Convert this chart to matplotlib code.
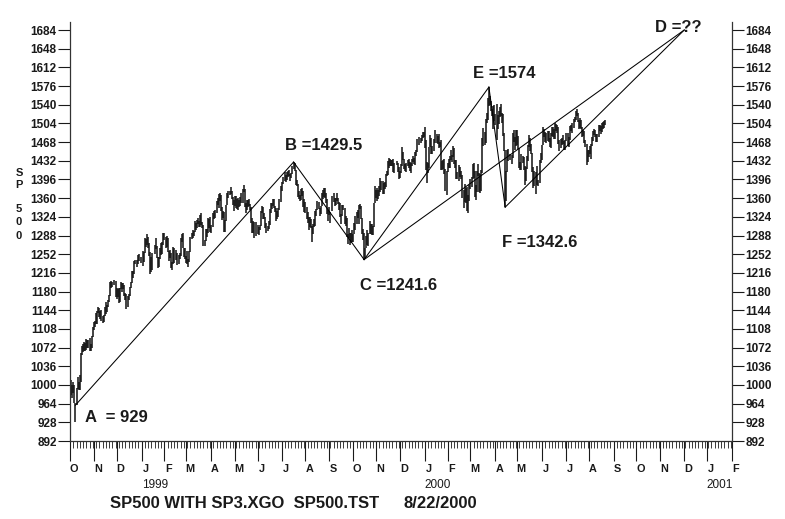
import numpy as np
import matplotlib
matplotlib.use('Agg')
import matplotlib.pyplot as plt

plt.rcParams['font.family'] = ['Liberation Sans', 'DejaVu Sans']

# ---------------- daily bar data (low / high), one list per month ----------------
lo_9810 = [985, 980, 975, 985, 965, 929, 962, 992, 990, 990, 1005, 1058, 1063, 1065, 1066, 1068, 1072, 1072, 1066, 1065, 1072, 1092]
hi_9810 = [1020, 1010, 1000, 1005, 1000, 965, 995, 1016, 1005, 1020, 1062, 1076, 1078, 1082, 1080, 1088, 1086, 1087, 1090, 1079, 1095, 1112]
lo_9811 = [1106, 1112, 1118, 1118, 1138, 1130, 1128, 1124, 1120, 1122, 1133, 1136, 1141, 1150, 1160, 1171, 1186, 1188, 1193, 1170]
hi_9811 = [1122, 1124, 1138, 1143, 1150, 1149, 1143, 1144, 1133, 1134, 1150, 1160, 1154, 1163, 1173, 1198, 1200, 1198, 1202, 1201]
lo_9812 = [1165, 1170, 1158, 1160, 1185, 1180, 1184, 1172, 1164, 1146, 1150, 1163, 1171, 1186, 1197, 1206, 1214, 1233, 1228, 1234, 1239, 1235]
hi_9812 = [1186, 1184, 1187, 1186, 1198, 1197, 1196, 1193, 1177, 1175, 1171, 1175, 1189, 1199, 1220, 1219, 1238, 1241, 1241, 1251, 1253, 1246]
lo_9901 = [1230, 1236, 1254, 1265, 1270, 1263, 1248, 1214, 1218, 1222, 1252, 1262, 1244, 1226, 1228, 1242, 1250, 1252, 1270]
hi_9901 = [1258, 1257, 1283, 1282, 1290, 1286, 1274, 1257, 1246, 1254, 1269, 1284, 1267, 1246, 1246, 1264, 1273, 1276, 1292]
lo_9902 = [1280, 1263, 1265, 1257, 1239, 1244, 1225, 1221, 1233, 1235, 1241, 1231, 1234, 1243, 1249, 1276, 1263, 1246, 1242]
hi_9902 = [1293, 1286, 1287, 1283, 1259, 1261, 1254, 1236, 1265, 1264, 1261, 1254, 1250, 1255, 1284, 1290, 1293, 1264, 1263]
lo_9903 = [1235, 1233, 1228, 1237, 1256, 1281, 1283, 1287, 1295, 1299, 1303, 1310, 1304, 1304, 1308, 1303, 1268, 1267, 1278, 1286, 1292, 1303, 1294]
hi_9903 = [1249, 1258, 1242, 1258, 1286, 1293, 1298, 1297, 1316, 1313, 1318, 1321, 1316, 1328, 1331, 1314, 1308, 1280, 1301, 1300, 1322, 1319, 1324]
lo_9904 = [1293, 1304, 1319, 1322, 1331, 1346, 1341, 1354, 1336, 1317, 1321, 1294, 1294, 1315, 1346, 1360, 1366, 1368, 1358, 1346, 1336]
hi_9904 = [1308, 1332, 1336, 1337, 1354, 1361, 1368, 1369, 1366, 1342, 1335, 1333, 1317, 1347, 1369, 1373, 1374, 1381, 1373, 1363, 1356]
lo_9905 = [1345, 1341, 1340, 1337, 1343, 1344, 1350, 1350, 1372, 1343, 1331, 1338, 1343, 1344, 1337, 1313, 1293, 1292, 1284, 1287]
hi_9905 = [1364, 1364, 1358, 1360, 1357, 1362, 1370, 1378, 1385, 1377, 1351, 1356, 1356, 1359, 1349, 1342, 1321, 1316, 1314, 1314]
lo_9906 = [1290, 1289, 1298, 1306, 1332, 1320, 1320, 1302, 1293, 1297, 1300, 1308, 1332, 1340, 1345, 1341, 1333, 1316, 1319, 1323, 1337, 1353]
hi_9906 = [1309, 1305, 1309, 1335, 1345, 1343, 1331, 1323, 1313, 1307, 1315, 1340, 1350, 1351, 1359, 1359, 1345, 1341, 1335, 1341, 1359, 1383]
lo_9907 = [1373, 1387, 1393, 1391, 1395, 1401, 1402, 1393, 1398, 1407, 1416, 1412, 1385, 1383, 1362, 1359, 1354, 1356, 1365, 1342, 1333]
hi_9907 = [1391, 1400, 1410, 1405, 1410, 1412, 1414, 1407, 1408, 1421, 1429.5, 1427, 1415, 1394, 1387, 1373, 1366, 1377, 1379, 1373, 1358]
lo_9908 = [1332, 1320, 1312, 1298, 1305, 1303, 1276, 1290, 1304, 1306, 1326, 1338, 1339, 1325, 1330, 1344, 1358, 1362, 1360, 1350, 1329, 1316]
hi_9908 = [1353, 1343, 1333, 1324, 1324, 1319, 1306, 1311, 1320, 1336, 1339, 1354, 1353, 1341, 1345, 1369, 1376, 1380, 1379, 1370, 1358, 1337]
lo_9909 = [1328, 1313, 1335, 1353, 1345, 1347, 1354, 1348, 1337, 1323, 1310, 1326, 1338, 1310, 1306, 1286, 1271, 1284, 1270, 1274, 1276]
hi_9909 = [1343, 1334, 1365, 1369, 1360, 1361, 1369, 1360, 1353, 1350, 1330, 1347, 1347, 1341, 1326, 1322, 1291, 1303, 1293, 1293, 1299]
lo_9910 = [1276, 1290, 1298, 1310, 1321, 1310, 1340, 1319, 1290, 1280, 1241.6, 1244, 1263, 1270, 1268, 1291, 1290, 1289, 1289, 1304, 1350]
hi_9910 = [1291, 1313, 1325, 1334, 1337, 1347, 1349, 1345, 1321, 1301, 1292, 1264, 1287, 1298, 1292, 1316, 1310, 1311, 1307, 1350, 1383]
lo_9911 = [1360, 1355, 1359, 1365, 1372, 1375, 1368, 1368, 1377, 1382, 1402, 1404, 1419, 1421, 1422, 1422, 1410, 1408, 1424, 1411, 1397]
hi_9911 = [1376, 1379, 1375, 1384, 1398, 1393, 1393, 1389, 1392, 1407, 1413, 1431, 1437, 1435, 1434, 1434, 1435, 1428, 1432, 1427, 1420]
lo_9912 = [1399, 1409, 1421, 1433, 1417, 1413, 1410, 1421, 1419, 1413, 1409, 1422, 1429, 1425, 1424, 1442, 1448, 1462, 1466, 1470, 1475, 1477]
hi_9912 = [1412, 1425, 1459, 1448, 1436, 1426, 1428, 1433, 1435, 1430, 1428, 1435, 1441, 1437, 1448, 1453, 1474, 1477, 1476, 1481, 1488, 1487]
lo_0001 = [1456, 1415, 1390, 1408, 1418, 1459, 1445, 1445, 1450, 1467, 1467, 1465, 1456, 1458, 1414, 1415, 1417, 1406, 1374, 1366]
hi_0001 = [1497, 1472, 1430, 1428, 1459, 1482, 1476, 1460, 1473, 1491, 1483, 1479, 1483, 1469, 1472, 1432, 1434, 1436, 1416, 1412]
lo_0002 = [1410, 1419, 1419, 1434, 1429, 1440, 1426, 1419, 1396, 1396, 1393, 1400, 1396, 1361, 1341, 1352, 1350, 1335, 1332, 1355]
hi_0002 = [1428, 1436, 1441, 1452, 1443, 1460, 1457, 1434, 1434, 1410, 1423, 1420, 1412, 1405, 1375, 1387, 1380, 1381, 1366, 1385]
lo_0003 = [1378, 1381, 1397, 1399, 1362, 1357, 1372, 1402, 1371, 1370, 1374, 1408, 1460, 1462, 1466, 1505, 1511, 1538, 1540, 1527, 1518, 1494, 1508]
hi_0003 = [1396, 1400, 1425, 1427, 1413, 1385, 1413, 1426, 1408, 1407, 1414, 1476, 1495, 1488, 1512, 1525, 1553, 1574, 1556, 1548, 1531, 1538, 1540]
lo_0004 = [1500, 1472, 1493, 1503, 1517, 1518, 1505, 1480, 1450, 1342.6, 1355, 1410, 1432, 1433, 1425, 1438, 1468, 1452, 1460]
hi_0004 = [1523, 1542, 1520, 1528, 1535, 1542, 1524, 1523, 1485, 1452, 1412, 1452, 1454, 1445, 1443, 1486, 1492, 1478, 1491]
lo_0005 = [1462, 1455, 1419, 1415, 1415, 1428, 1414, 1385, 1393, 1416, 1431, 1459, 1450, 1446, 1411, 1380, 1383, 1368, 1386, 1383, 1390, 1427]
hi_0005 = [1491, 1479, 1456, 1430, 1445, 1442, 1440, 1422, 1420, 1441, 1463, 1481, 1476, 1464, 1447, 1420, 1413, 1411, 1421, 1395, 1434, 1447]
lo_0006 = [1434, 1462, 1478, 1468, 1466, 1471, 1468, 1459, 1456, 1480, 1478, 1473, 1474, 1489, 1485, 1464, 1450, 1456, 1462, 1465, 1452, 1452]
hi_0006 = [1463, 1497, 1494, 1488, 1486, 1489, 1489, 1476, 1485, 1497, 1497, 1494, 1504, 1502, 1500, 1498, 1472, 1473, 1476, 1481, 1470, 1472]
lo_0007 = [1470, 1461, 1459, 1472, 1490, 1485, 1496, 1507, 1511, 1518, 1507, 1493, 1496, 1493, 1478, 1479, 1467, 1459, 1424, 1430]
hi_0007 = [1485, 1485, 1477, 1499, 1501, 1504, 1513, 1516, 1528, 1531, 1525, 1510, 1514, 1510, 1497, 1492, 1490, 1472, 1465, 1453]
lo_0008 = [1440, 1446, 1436, 1460, 1470, 1482, 1478, 1468, 1468, 1478, 1490, 1484, 1487, 1494, 1496, 1500]
hi_0008 = [1453, 1461, 1464, 1477, 1489, 1494, 1492, 1484, 1484, 1500, 1500, 1499, 1505, 1506, 1508, 1511]

month_keys = ['1998-10', '1998-11', '1998-12', '1999-01', '1999-02', '1999-03', '1999-04',
              '1999-05', '1999-06', '1999-07', '1999-08', '1999-09', '1999-10', '1999-11',
              '1999-12', '2000-01', '2000-02', '2000-03', '2000-04', '2000-05', '2000-06',
              '2000-07', '2000-08']
month_lows = [lo_9810, lo_9811, lo_9812, lo_9901, lo_9902, lo_9903, lo_9904, lo_9905, lo_9906,
              lo_9907, lo_9908, lo_9909, lo_9910, lo_9911, lo_9912, lo_0001, lo_0002, lo_0003,
              lo_0004, lo_0005, lo_0006, lo_0007, lo_0008]
month_highs = [hi_9810, hi_9811, hi_9812, hi_9901, hi_9902, hi_9903, hi_9904, hi_9905, hi_9906,
               hi_9907, hi_9908, hi_9909, hi_9910, hi_9911, hi_9912, hi_0001, hi_0002, hi_0003,
               hi_0004, hi_0005, hi_0006, hi_0007, hi_0008]

holidays = ['1998-11-26', '1998-12-25', '1999-01-01', '1999-01-18', '1999-02-15', '1999-04-02',
            '1999-05-31', '1999-07-05', '1999-09-06', '1999-11-25', '1999-12-24', '2000-01-17',
            '2000-02-21', '2000-04-21', '2000-05-29', '2000-07-04']

# pivot points of the wave lines
pivot_names = ['A', 'B', 'C', 'D', 'E', 'F']
pivot_dates = ['1998-10-08', '1999-07-16', '1999-10-15', '2000-12-01', '2000-03-24', '2000-04-14']
pivot_values = [961, 1429.5, 1241.6, 1684, 1574, 1342.6]
pivot_labels = ['A  = 929', 'B =1429.5', 'C =1241.6', 'D =??', 'E =1574', 'F =1342.6']
segments = [('A', 'B'), ('B', 'C'), ('C', 'E'), ('E', 'F'), ('F', 'D'), ('C', 'D')]

y_ticks = list(range(892, 1685, 36))
month_letters = 'JFMAMJJASOND'
axis_start = '1998-10-01'
axis_end = '2001-02-01'
footer_left = 'SP500 WITH SP3.XGO  SP500.TST'
footer_right = '8/22/2000'
ylabel_chars = ['S', 'P', '5', '0', '0']

# ---------------- build x positions (weekday index from axis start) ----------------
origin = np.datetime64(axis_start)
hol = np.array(holidays, dtype='datetime64[D]')
xs, lows, highs = [], [], []
for key, lo, hi in zip(month_keys, month_lows, month_highs):
    m = np.datetime64(key, 'M')
    days = np.arange(m.astype('datetime64[D]'), (m + 1).astype('datetime64[D]'))
    days = days[np.is_busday(days, holidays=hol)]
    for d, l, h in zip(days, lo, hi):
        xs.append(np.busday_count(origin, d))
        lows.append(l)
        highs.append(h)

px = {n: np.busday_count(origin, np.datetime64(d)) for n, d in zip(pivot_names, pivot_dates)}
pv = dict(zip(pivot_names, pivot_values))

W, H = 785, 519
fig = plt.figure(figsize=(W / 100, H / 100), dpi=100)
ax = fig.add_axes([70 / W, 1 - 441 / H, 662 / W, (441 - 21.7) / H])

ink = '#1a1a1a'
ax.vlines(xs, lows, highs, color='#111111', lw=1.1)
for a, b in segments:
    ax.plot([px[a], px[b]], [pv[a], pv[b]], color='black', lw=0.75)

x_end = np.busday_count(origin, np.datetime64(axis_end))
ax.set_xlim(0, x_end)
ax.set_ylim(892, 1700)

# y axis on both sides
ax.set_yticks(y_ticks)
ax.set_yticklabels([str(v) for v in y_ticks], fontweight='bold')
ax.tick_params(axis='y', which='both', left=True, right=True, labelleft=True, labelright=True,
               direction='out', length=8.6, width=0.8, pad=1, labelsize=8.5, colors=ink)

# x axis month ticks
months = np.arange(np.datetime64(axis_start, 'M'), np.datetime64(axis_end, 'M') + 1)
mx = [np.busday_count(origin, np.busday_offset(m.astype('datetime64[D]'), 0, roll='forward'))
      for m in months]
ax.set_xticks(mx)
ax.set_xticklabels([])
ax.set_xticks(np.arange(0, x_end + 1, 3), minor=True)
ax.tick_params(axis='x', which='major', direction='out', length=14.4, width=0.8, color=ink)
ax.tick_params(axis='x', which='minor', direction='out', length=5, width=0.6, color=ink)

for m, x in zip(months, mx):
    mi = int(str(m)[5:7]) - 1
    ax.annotate(month_letters[mi], xy=(x, 0), xycoords=('data', 'axes fraction'),
                xytext=(4, -30.7), textcoords='offset pixels', ha='center', va='baseline',
                fontsize=7.8, fontweight='bold', color=ink)
    if mi == 0:
        ax.annotate(str(m)[:4], xy=(x, 0), xycoords=('data', 'axes fraction'),
                    xytext=(13, -47), textcoords='offset pixels', ha='center', va='baseline',
                    fontsize=8.5, color=ink)

for s in ['left', 'right', 'bottom']:
    ax.spines[s].set_linewidth(0.9)
    ax.spines[s].set_color('#333333')
ax.spines['top'].set_visible(False)

# pivot labels
label_offsets = {'A': (9.6, -16.7), 'B': (-8.5, 12), 'C': (-4, -30.6),
                 'D': (-29, -2), 'E': (-16, 9), 'F': (-3, -40)}
for n, t in zip(pivot_names, pivot_labels):
    ax.annotate(t, xy=(px[n], pv[n]), xytext=label_offsets[n], textcoords='offset pixels',
                ha='left', va='baseline', fontsize=12, fontweight='bold', color=ink)

# vertical axis title "SP 500"
for ch, yp in zip(ylabel_chars, [173, 185, 209, 222, 236]):
    fig.text(19 / W, 1 - yp / H, ch, ha='center', va='center', fontsize=8, fontweight='bold',
             color=ink)

fig.text(110 / W, 1 - 508 / H, footer_left, ha='left', va='baseline', fontsize=12,
         fontweight='bold', color=ink)
fig.text(403 / W, 1 - 508 / H, footer_right, ha='left', va='baseline', fontsize=12,
         fontweight='bold', color=ink)

fig.savefig('out.png', dpi=100)
